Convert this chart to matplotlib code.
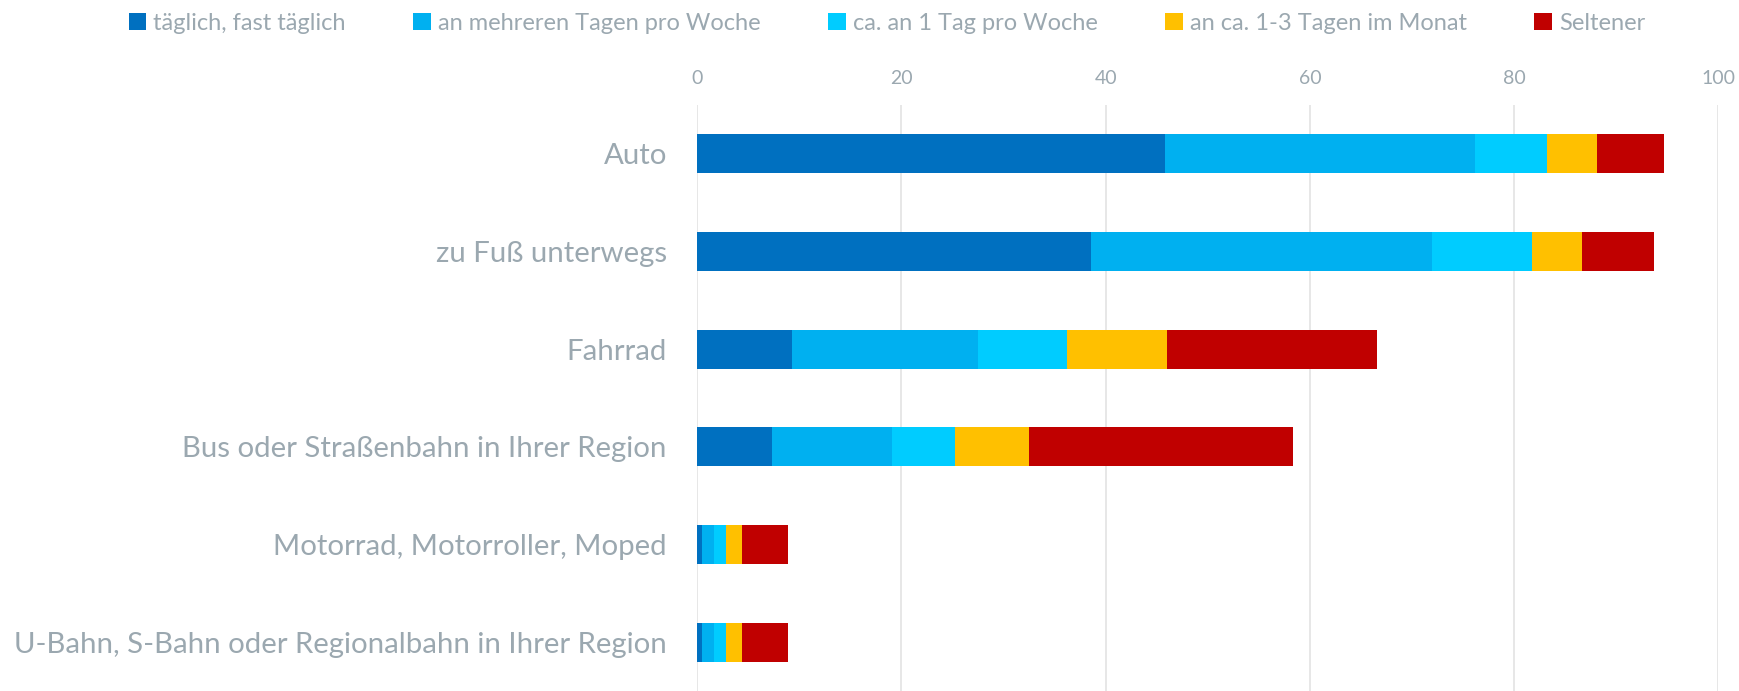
import matplotlib
matplotlib.use("Agg")
import matplotlib.pyplot as plt
import numpy as np
from matplotlib.patches import Patch

plt.rcParams['font.family'] = ['Lato', 'DejaVu Sans']

categories = ["Auto", "zu Fuß unterwegs", "Fahrrad", "Bus oder Straßenbahn in Ihrer Region",
              "Motorrad, Motorroller, Moped", "U-Bahn, S-Bahn oder Regionalbahn in Ihrer Region"]
series_names = ["täglich, fast täglich", "an mehreren Tagen pro Woche", "ca. an 1 Tag pro Woche",
                "an ca. 1-3 Tagen im Monat", "Seltener"]
taeglich = [45.8, 38.6, 9.3, 7.3, 0.5, 0.5]
mehrere = [30.4, 33.4, 18.2, 11.8, 1.1, 1.1]
ein_tag = [7.0, 9.8, 8.7, 6.1, 1.2, 1.2]
monat = [4.9, 4.9, 9.8, 7.3, 1.6, 1.6]
seltener = [6.6, 7.0, 20.6, 25.9, 4.5, 4.5]
colors = ["#0070C0", "#00B0F0", "#00CCFF", "#FFC000", "#C00000"]
xticks = [0, 20, 40, 60, 80, 100]

text_color = "#9BA8B0"

fig = plt.figure(figsize=(17.39, 6.91), dpi=100)
ax = fig.add_axes([0.401, 0.0, 0.587, 0.848])

y = np.arange(len(categories))
left = np.zeros(len(categories))
for vals, name, c in zip([taeglich, mehrere, ein_tag, monat, seltener], series_names, colors):
    ax.barh(y, vals, left=left, height=0.4, color=c, label=name, zorder=3)
    left += np.array(vals)

ax.set_xlim(0, 100)
ax.set_ylim(len(categories) - 0.5, -0.5)
ax.set_yticks(y)
ax.set_yticklabels(categories, fontsize=21.2, color=text_color)
ax.set_xticks(xticks)
ax.set_xticklabels([str(t) for t in xticks], fontsize=14, color=text_color)
ax.xaxis.tick_top()
ax.tick_params(axis='both', length=0)
ax.tick_params(axis='x', pad=13)
ax.tick_params(axis='y', pad=22)
for s in ax.spines.values():
    s.set_visible(False)
ax.grid(axis='x', color="#E3E3E3", linewidth=1.2, zorder=0)

handles = [Patch(facecolor=c, label=n) for c, n in zip(colors, series_names)]
fig.legend(handles=handles, loc='upper center', bbox_to_anchor=(0.51, 1.012), ncol=5,
           frameon=False, fontsize=17, labelcolor=text_color, handlelength=0.75,
           handleheight=0.75, handletextpad=0.3, columnspacing=2.85)

fig.savefig("out.png", dpi=100, facecolor="white")
